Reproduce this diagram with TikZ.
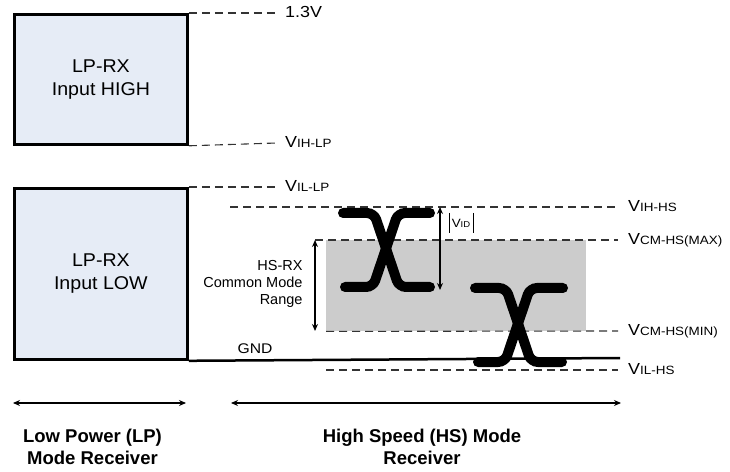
\documentclass[tikz,border=0pt]{standalone}
\usepackage{fontspec}
\setmainfont{Liberation Sans}
\newfontfamily\labfont[FakeStretch=1.12]{Liberation Sans}
\newfontfamily\boxfont[FakeStretch=1.06]{Liberation Sans}
\usetikzlibrary{arrows.meta}
\definecolor{boxfill}{RGB}{230,236,246}
\definecolor{rangefill}{RGB}{204,204,204}
\newcommand{\fsz}[2]{\fontsize{#1bp}{#2bp}\selectfont}
\newcommand{\vlab}[1]{{\labfont\fsz{16}{18}V}{\labfont\fsz{12}{13}#1}}
\begin{document}
\begin{tikzpicture}[x=1bp,y=-1bp,
  lpbox/.style={draw, line width=2.8bp, fill=boxfill, minimum width=173bp, align=center, font=\boxfont\fsz{18.5}{23}, inner sep=0pt},
  lvl/.style={draw=black!80, line width=1.1bp, dash pattern=on 8bp off 5bp},
  lab/.style={anchor=west, inner ysep=0pt, text height=9bp, text depth=0pt, font=\labfont\fsz{16}{18}},
  lplab/.style={lab, inner xsep=8bp},
  hslab/.style={lab, inner xsep=10bp},
  wave/.style={line width=10bp, line cap=round, rounded corners=7bp},
  tips/.style={{Stealth[length=7bp,width=6bp]}-{Stealth[length=7bp,width=6bp]}},
  btext/.style={font=\bfseries\fsz{18.5}{21.5}, align=center}
]
\useasboundingbox (0,0) rectangle (730,472);

% LP boxes
\node[lpbox, minimum height=130bp, anchor=north west] (hi) at (13,13) {LP-RX\\Input HIGH};
\node[lpbox, minimum height=171bp, anchor=north west] (lo) at (13,187) {LP-RX\\Input LOW};

% LP level labels
\node[lplab] (l13) at (277,13) {1.3V};
\node[lplab] (lihlp) at (277,143) {\vlab{IH-LP}};
\node[lplab] (lillp) at (277,187) {\vlab{IL-LP}};
\draw[lvl] (hi.north east) -- (l13.west);
\draw[lvl] (hi.south east) -- (lihlp.west);
\draw[lvl] (lo.north east) -- (lillp.west);

% common mode range
\node[fill=rangefill, inner sep=0pt, minimum width=260bp, minimum height=91bp, anchor=north west] (range) at (326,240) {};

% HS level labels and lines
\node[hslab] (lihhs) at (618,207) {\vlab{IH-HS}};
\node[hslab] (lcmmax) at (618,240) {\vlab{CM-HS(MAX)}};
\node[hslab] (lcmmin) at (618,331) {\vlab{CM-HS(MIN)}};
\node[hslab] (lilhs) at (618,370) {\vlab{IL-HS}};
\coordinate (ihs) at (230,207);
\coordinate (cmxs) at (315,240);
\coordinate (cmns) at (315,331);
\coordinate (ils) at (326,370);
\draw[lvl] (ihs) -- (lihhs.west);
\draw[lvl] (cmxs) -- (lcmmax.west);
\draw[lvl] (range.south west) -- (lcmmin.west);
\draw[lvl] (ils) -- (lilhs.west);

% GND
\coordinate (gndend) at (620,358);
\draw[line width=2.5bp] (lo.south east) -- (gndend);
\node[font=\labfont\fsz{14}{16}] (gnd) at (255,349) {GND};

% HS-RX common mode range arrow
\draw[tips, line width=1.3bp] (cmxs) -- (cmns);
\node[anchor=east, align=right, font=\fsz{14.5}{17}] (hsrx) at (306,284) {HS-RX\\Common Mode\\Range};

% VID arrow
\coordinate (vidtop) at (440,207);
\coordinate (vidbot) at (440,290);
\draw[tips, line width=1.3bp] (vidtop) -- (vidbot);
\node[inner xsep=2.5bp, inner ysep=0pt, minimum height=20bp] (vid) at (461,223) {{\labfont\fsz{12}{13}V}{\labfont\fsz{8.5}{9}ID}};
\draw[line width=0.8bp] (vid.north west) -- (vid.south west);
\draw[line width=0.8bp] (vid.north east) -- (vid.south east);

% waveforms
\draw[wave] (343,213) -- (374,213) -- (399,287) -- (430,287);
\draw[wave] (430,213) -- (398,213) -- (373,287) -- (345,287);
\draw[wave] (475,288) -- (506,288) -- (531,362) -- (562,362);
\draw[wave] (563,288) -- (530,288) -- (505,362) -- (478,362);

% bottom arrows and texts
\coordinate (lpa) at (13,403);
\coordinate (lpb) at (186,403);
\coordinate (hsa) at (231,403);
\coordinate (hsb) at (621,403);
\draw[tips, line width=2.5bp] (lpa) -- (lpb);
\draw[tips, line width=2.5bp] (hsa) -- (hsb);
\node[btext] (lptxt) at (92.5,447) {Low Power (LP)\\Mode Receiver};
\node[btext] (hstxt) at (422,447) {High Speed (HS) Mode\\Receiver};
\end{tikzpicture}
\end{document}
